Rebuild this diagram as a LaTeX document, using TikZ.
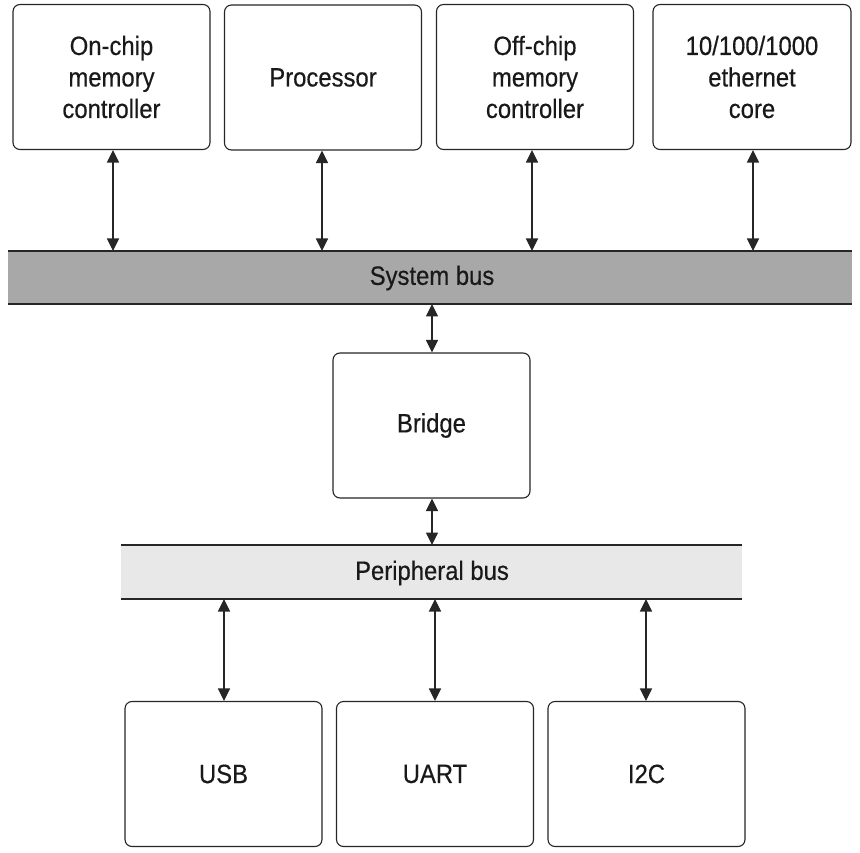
\documentclass[tikz,border=0pt]{standalone}
\usepackage{fontspec}
\setmainfont{Liberation Sans}[FakeStretch=0.9,FakeBold=0.4]
\usetikzlibrary{arrows.meta}
\begin{document}
\begin{tikzpicture}[x=1pt,y=-1pt,
  blk/.style={draw=black!85,line width=1.1pt,rounded corners=7pt,fill=white,
    minimum width=197pt,minimum height=145pt,inner sep=0pt,align=center,
    font=\fontsize{26.5}{31.5}\selectfont,text=black!90},
  buslabel/.style={font=\fontsize{26.5}{30}\selectfont,text=black!90},
  conn/.style={line width=1.2pt,black!85,{Triangle[length=12.5pt,width=12pt]}-{Triangle[length=12.5pt,width=12pt]}}]
\useasboundingbox (0,0) rectangle (860,853);
% system bus
\fill[fill={rgb,255:red,168;green,168;blue,168}] (8,251) rectangle (852,304);
\draw[line width=1.1pt,black!85] (8,251) -- (852,251) (8,304) -- (852,304);
\node[buslabel] (sbus) at (432,278) {System bus};
\coordinate (s1) at (113,251); \coordinate (s2) at (322,251);
\coordinate (s3) at (532,251); \coordinate (s4) at (753,251);
\coordinate (sb) at (432,304);
% peripheral bus
\fill[fill={rgb,255:red,232;green,232;blue,232}] (121,545) rectangle (742,599);
\draw[line width=1.1pt,black!85] (121,545) -- (742,545) (121,599) -- (742,599);
\node[buslabel] (pbus) at (432,573) {Peripheral bus};
\coordinate (pt) at (432,545);
\coordinate (p1) at (224,599); \coordinate (p2) at (435,599); \coordinate (p3) at (646,599);
% top boxes
\node[blk] (onchip) at (111.5,77) {On-chip\\memory\\controller};
\node[blk] (proc) at (323,77.5) {Processor};
\node[blk] (offchip) at (535,77) {Off-chip\\memory\\controller};
\node[blk,minimum width=198pt] (eth) at (752,77) {10/100/1000\\ethernet\\core};
% bridge
\node[blk] (bridge) at (431.5,425.5) {Bridge};
% bottom boxes
\node[blk] (usb) at (223.5,774) {USB};
\node[blk] (uart) at (435,774) {UART};
\node[blk] (i2c) at (646.5,774) {I2C};
% connectors
\draw[conn] (onchip.south -| s1) -- (s1);
\draw[conn] (proc.south -| s2) -- (s2);
\draw[conn] (offchip.south -| s3) -- (s3);
\draw[conn] (eth.south -| s4) -- (s4);
\draw[conn] (sb) -- (bridge.north -| sb);
\draw[conn] (bridge.south -| pt) -- (pt);
\draw[conn] (p1) -- (usb.north -| p1);
\draw[conn] (p2) -- (uart.north -| p2);
\draw[conn] (p3) -- (i2c.north -| p3);
\end{tikzpicture}
\end{document}
